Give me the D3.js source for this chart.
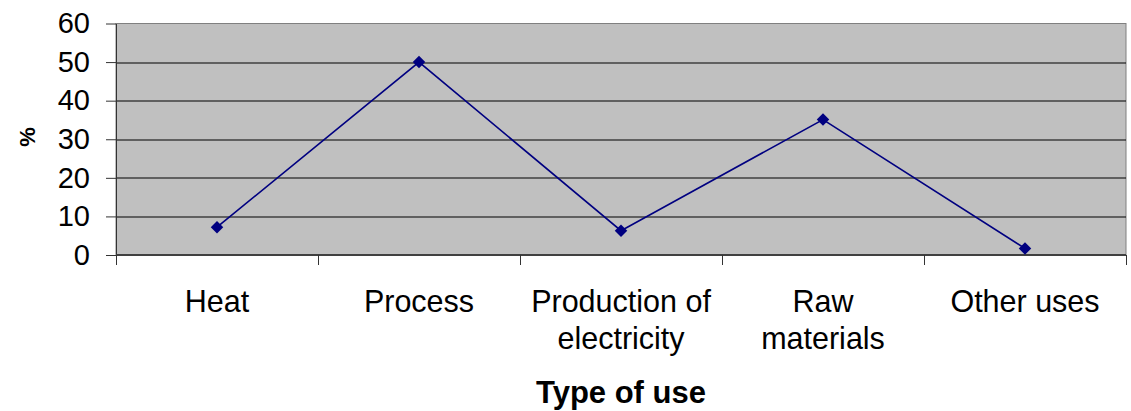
<!DOCTYPE html>
<html>
<head>
<meta charset="utf-8">
<script src="https://cdn.jsdelivr.net/npm/d3@7"></script>
<style>
  body { margin: 0; background: #fff; }
  svg { display: block; font-family: "Liberation Sans", Arial, sans-serif; }
</style>
</head>
<body>
<svg id="chart"></svg>
<script>
// data
const categories = ['Heat', 'Process', 'Production of\nelectricity', 'Raw\nmaterials', 'Other uses'];
const shares = [7.2, 50, 6.3, 35.1, 1.7];
const yTicks = [0, 10, 20, 30, 40, 50, 60];

const width = 1131, height = 411;
const margin = { top: 23.5, right: 5, bottom: 156, left: 116 };
const plotW = width - margin.left - margin.right;
const plotH = height - margin.top - margin.bottom;

const svg = d3.select('#chart').attr('width', width).attr('height', height);

const xScale = d3.scaleBand().domain(categories).range([0, plotW]).padding(0);
const yScale = d3.scaleLinear().domain([0, 60]).range([plotH, 0]);

const chart = svg.append('g')
  .attr('transform', `translate(${margin.left},${margin.top})`);

// plot background
chart.append('rect')
  .attr('width', plotW).attr('height', plotH)
  .attr('fill', '#c0c0c0')
  .attr('stroke', '#808080').attr('stroke-width', 1);

// gridlines
chart.append('g')
  .selectAll('line')
  .data(yTicks.filter(t => t > 0 && t < 60))
  .join('line')
  .attr('x1', 0).attr('x2', plotW)
  .attr('y1', d => Math.round(yScale(d)) + 0.5)
  .attr('y2', d => Math.round(yScale(d)) + 0.5)
  .attr('stroke', '#000').attr('stroke-width', 1);

// y axis
const yAxisG = chart.append('g')
  .call(d3.axisLeft(yScale).tickValues(yTicks).tickSize(10).tickPadding(16).tickSizeOuter(0));
yAxisG.select('.domain').attr('stroke', '#333');
yAxisG.selectAll('.tick line').attr('stroke', '#333');
yAxisG.selectAll('text')
  .style('font-size', '29px')
  .attr('fill', '#000')
  .attr('font-family', '"Liberation Sans", Arial, sans-serif');

// x axis line and boundary ticks
const bounds = categories.map(c => xScale(c)).concat([plotW]);
chart.append('line')
  .attr('x1', 0).attr('x2', plotW)
  .attr('y1', plotH).attr('y2', plotH)
  .attr('stroke', '#404040').attr('stroke-width', 2);
chart.append('g')
  .selectAll('line')
  .data(bounds)
  .join('line')
  .attr('x1', d => Math.round(d) + 0.5).attr('x2', d => Math.round(d) + 0.5)
  .attr('y1', plotH).attr('y2', plotH + 10)
  .attr('stroke', '#333');

// category labels
const labels = chart.append('g')
  .selectAll('text')
  .data(categories)
  .join('text')
  .attr('text-anchor', 'middle')
  .attr('fill', '#000')
  .style('font-size', '30.5px')
  .attr('transform', d => `translate(${xScale(d) + xScale.bandwidth() / 2},${plotH + 57})`);
labels.selectAll('tspan')
  .data(d => d.split('\n'))
  .join('tspan')
  .attr('x', 0)
  .attr('dy', (d, i) => i === 0 ? 0 : 37)
  .text(d => d);

// line + markers
const line = d3.line()
  .x((d, i) => xScale(categories[i]) + xScale.bandwidth() / 2)
  .y(d => yScale(d));

chart.append('path')
  .datum(shares)
  .attr('d', line)
  .attr('fill', 'none')
  .attr('stroke', '#000080')
  .attr('stroke-width', 1.6);

chart.append('g')
  .selectAll('path')
  .data(shares)
  .join('path')
  .attr('d', d3.symbol().type(d3.symbolDiamond2).size(100))
  .attr('transform', (d, i) => `translate(${xScale(categories[i]) + xScale.bandwidth() / 2},${yScale(d)})`)
  .attr('fill', '#000080');

// axis titles
svg.append('text')
  .attr('x', margin.left + plotW / 2)
  .attr('y', 403)
  .attr('text-anchor', 'middle')
  .style('font-size', '31px')
  .style('font-weight', 'bold')
  .text('Type of use');

svg.append('text')
  .attr('transform', 'rotate(-90)')
  .attr('x', -137)
  .attr('y', 35)
  .attr('text-anchor', 'middle')
  .style('font-size', '22px')
  .style('font-weight', 'bold')
  .text('%');
</script>
</body>
</html>
